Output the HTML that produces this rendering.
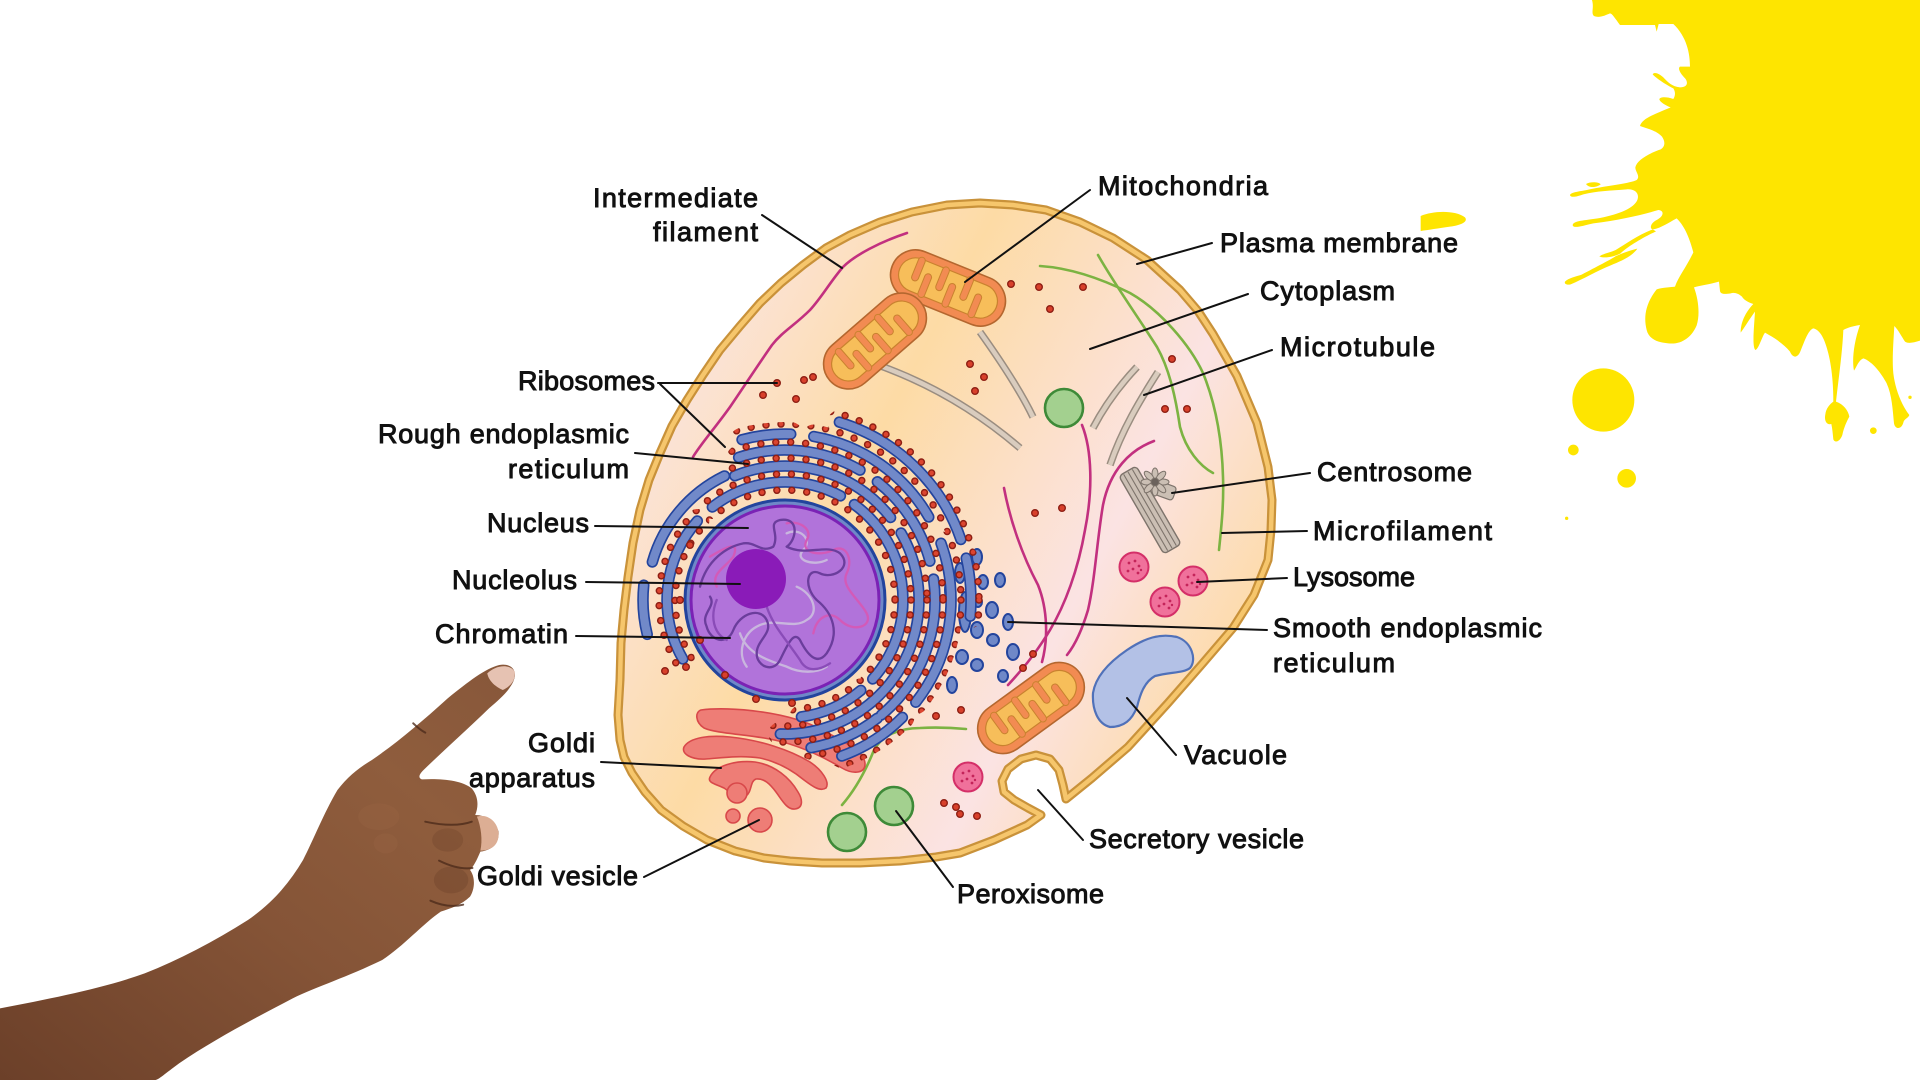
<!DOCTYPE html>
<html><head><meta charset="utf-8"><title>Animal cell</title>
<style>
html,body{margin:0;padding:0;background:#fff;}
svg{display:block;}
.lbl{font-family:"Liberation Sans",Arial,sans-serif;font-size:27px;fill:#111;stroke:#111;stroke-width:.95px;}
.ld{stroke:#111;stroke-width:2;fill:none;stroke-linecap:round;}
</style></head>
<body>
<svg width="1920" height="1080" viewBox="0 0 1920 1080" xmlns="http://www.w3.org/2000/svg">
<defs>
<linearGradient id="cyto" gradientUnits="userSpaceOnUse" x1="620" y1="325" x2="1239" y2="651">
<stop offset="0" stop-color="#fbe2dc"/>
<stop offset="0.12" stop-color="#fbe3d8"/>
<stop offset="0.40" stop-color="#fddba5"/>
<stop offset="0.76" stop-color="#fbe3e3"/>
<stop offset="0.97" stop-color="#fddcb0"/>
</linearGradient>
<linearGradient id="skin" x1="0" y1="1" x2="1" y2="0">
<stop offset="0" stop-color="#6c4029"/>
<stop offset="0.45" stop-color="#855437"/>
<stop offset="0.75" stop-color="#8f5d3d"/>
<stop offset="1" stop-color="#87573a"/>
</linearGradient>
<g id="mito">
<rect x="-60" y="-25" width="120" height="50" rx="25" fill="#f28b52" stroke="#b4672f" stroke-width="1.6"/>
<rect x="-52" y="-17" width="104" height="34" rx="17" fill="#f7be5a" stroke="#c9822f" stroke-width="1.2"/>
<g fill="#f28b52" stroke="#c9822f" stroke-width="1">
<rect x="-38" y="-19" width="7" height="25" rx="3.5"/>
<rect x="-12" y="-19" width="7" height="25" rx="3.5"/>
<rect x="14" y="-19" width="7" height="25" rx="3.5"/>
<rect x="-26" y="-6" width="7" height="25" rx="3.5"/>
<rect x="0" y="-6" width="7" height="25" rx="3.5"/>
<rect x="28" y="-6" width="7" height="25" rx="3.5"/>
</g>
</g>
<g id="lyso">
<circle r="14.5" fill="#f0719b" stroke="#d42f68" stroke-width="2"/>
<g fill="#c4245a"><circle cx="-5" cy="-4" r="1.4"/><circle cx="1" cy="-6" r="1.4"/><circle cx="5" cy="-1" r="1.4"/><circle cx="-1" cy="2" r="1.4"/><circle cx="-6" cy="4" r="1.4"/><circle cx="4" cy="6" r="1.4"/><circle cx="7" cy="3" r="1.2"/></g>
</g>
<g id="er" fill="none" stroke-linecap="round">
<circle cx="785" cy="600" r="118" pathLength="360" stroke-dasharray="72 400" transform="rotate(150 785 600)"/>
<circle cx="785" cy="600" r="118" pathLength="360" stroke-dasharray="66 400" transform="rotate(232 785 600)"/>
<circle cx="785" cy="600" r="118" pathLength="360" stroke-dasharray="96 400" transform="rotate(306 785 600)"/>
<circle cx="785" cy="600" r="118" pathLength="360" stroke-dasharray="32 400" transform="rotate(50 785 600)"/>
<circle cx="785" cy="600" r="134" pathLength="360" stroke-dasharray="74 400" transform="rotate(248 785 600)"/>
<circle cx="785" cy="600" r="134" pathLength="360" stroke-dasharray="80 400" transform="rotate(330 785 600)"/>
<circle cx="785" cy="600" r="134" pathLength="360" stroke-dasharray="44 400" transform="rotate(48 785 600)"/>
<circle cx="785" cy="600" r="150" pathLength="360" stroke-dasharray="48 400" transform="rotate(252 785 600)"/>
<circle cx="785" cy="600" r="150" pathLength="360" stroke-dasharray="37 400" transform="rotate(308 785 600)"/>
<circle cx="785" cy="600" r="150" pathLength="360" stroke-dasharray="58 400" transform="rotate(352 785 600)"/>
<circle cx="785" cy="600" r="150" pathLength="360" stroke-dasharray="28 400" transform="rotate(52 785 600)"/>
<circle cx="785" cy="600" r="166" pathLength="360" stroke-dasharray="17 400" transform="rotate(255 785 600)"/>
<circle cx="785" cy="600" r="166" pathLength="360" stroke-dasharray="50 400" transform="rotate(280 785 600)"/>
<circle cx="785" cy="600" r="166" pathLength="360" stroke-dasharray="58 400" transform="rotate(340 785 600)"/>
<circle cx="785" cy="600" r="166" pathLength="360" stroke-dasharray="25 400" transform="rotate(45 785 600)"/>
<circle cx="785" cy="600" r="186" pathLength="360" stroke-dasharray="54 400" transform="rotate(287 785 600)"/>
<circle cx="785" cy="600" r="186" pathLength="360" stroke-dasharray="18 400" transform="rotate(347 785 600)"/>
</g>
<g id="ers" fill="none" stroke-linecap="round">
<circle cx="785" cy="600" r="138" pathLength="360" stroke-dasharray="48 400" transform="rotate(196 785 600)"/>
<circle cx="785" cy="600" r="142" pathLength="360" stroke-dasharray="20 400" transform="rotate(166 785 600)"/>
</g>
<mask id="erm" maskUnits="userSpaceOnUse" x="0" y="0" width="1920" height="1080">
<use href="#er" stroke="#fff" stroke-width="24"/>
</mask>
</defs>

<rect width="1920" height="1080" fill="#fff"/>

<!-- yellow splash -->
<g fill="#fee500">
<g transform="translate(1500 0) scale(0.33333)">
<path d="M238,0 L1260,0 L1260,1022 C1240,1028 1225,1032 1215,1025 C1205,1010 1195,990 1183,978 C1180,1030 1176,1080 1180,1120 C1186,1170 1205,1215 1228,1245 C1224,1256 1212,1256 1210,1268 C1205,1288 1186,1290 1182,1270 C1178,1230 1176,1185 1160,1150 C1140,1112 1112,1082 1090,1075 C1076,1080 1070,1100 1062,1112 C1056,1085 1060,1030 1080,975 C1060,978 1045,982 1030,990 C1027,1060 1015,1140 1008,1205 C1030,1212 1045,1232 1048,1250 C1040,1265 1032,1282 1027,1305 C1020,1325 1005,1330 1000,1318 C998,1300 997,1285 994,1272 C980,1276 972,1262 976,1243 C978,1225 990,1212 1000,1205 C1000,1150 995,1100 985,1060 C975,1020 962,990 940,985 C925,990 915,1020 902,1052 C895,1072 880,1078 870,1055 C850,1030 820,1012 795,998 C785,1012 776,1048 766,1050 C756,1040 762,985 765,935 C750,955 732,985 722,998 C722,960 743,930 760,912 C742,906 732,900 726,890 C716,880 702,876 692,880 C676,882 662,884 660,873 L657,845 C630,853 602,856 582,862 C596,900 600,945 590,976 C576,1010 545,1035 505,1030 C470,1028 446,1015 440,990 C430,950 437,910 470,868 C490,862 513,862 525,860 C535,830 560,800 580,757 C570,720 556,680 530,655 C505,668 485,683 460,688 C448,688 450,670 470,660 C490,650 495,632 475,630 C425,645 360,660 280,670 C245,678 222,686 218,676 C219,662 250,662 300,654 C360,642 402,624 412,600 C420,578 402,566 380,568 C330,572 290,573 250,583 C230,590 214,594 210,586 C211,576 240,575 280,566 C330,556 390,550 410,540 C422,528 406,516 406,502 C410,482 442,462 482,448 C496,440 496,425 486,410 C470,392 442,386 420,378 C426,356 460,344 512,322 C496,316 480,306 478,298 C480,290 500,290 520,297 C528,285 525,272 520,265 C500,255 470,236 458,223 C462,215 476,220 490,232 C502,245 516,260 540,262 C560,262 566,250 556,236 C542,222 532,206 540,200 L570,200 C570,160 560,110 520,72 L476,72 L470,95 L465,75 L360,75 C346,56 336,40 330,40 C315,46 298,55 282,48 C272,40 283,24 276,0 Z"/>
<path d="M195,845 C205,834 228,830 245,824 C290,800 330,780 348,768 C372,758 395,750 412,746 C398,768 362,784 332,796 C292,812 248,838 212,853 C201,856 192,852 195,845 Z"/>
<path d="M298,769 C312,760 332,757 347,750 C375,733 412,706 458,688 L468,694 C430,712 382,740 362,760 C342,771 312,776 298,769 Z"/>
<path d="M258,552 C270,545 295,545 302,553 C290,562 268,566 258,552 Z"/>
<ellipse cx="310" cy="1200" rx="93" ry="95"/>
<circle cx="220" cy="1350" r="16"/>
<circle cx="380" cy="1435" r="28"/>
<circle cx="1120" cy="1292" r="10"/>
<circle cx="1230" cy="1192" r="5"/>
<circle cx="200" cy="1555" r="5"/>
</g>
<g transform="translate(1080 160) scale(0.33333)">
<path d="M1022,168 C1060,152 1125,150 1155,172 C1165,185 1145,195 1110,200 C1075,205 1045,210 1022,213 Z"/>
</g>
</g>

<!-- hand -->
<g transform="translate(0 640) scale(0.34435 0.33333)">
<path fill="url(#skin)" d="M0,1105 C150,1075 300,1045 420,1000 C520,960 620,905 720,840 C790,790 840,730 880,660 C910,600 940,520 980,450 C1010,410 1040,385 1080,360 C1150,310 1220,250 1300,175 C1360,125 1410,85 1450,75 C1480,70 1498,85 1495,110 C1490,140 1460,170 1420,205 C1360,265 1290,330 1230,390 C1215,405 1215,415 1225,418 C1280,415 1340,420 1370,445 C1390,470 1390,500 1380,525 C1410,525 1440,545 1448,575 C1450,610 1430,630 1395,635 C1385,660 1375,680 1365,690 C1380,710 1380,745 1365,770 C1340,795 1310,805 1280,815 C1230,850 1170,920 1110,960 C1010,1010 920,1040 850,1075 C730,1140 620,1200 520,1270 C480,1300 460,1320 450,1320 L0,1320 Z"/>
<ellipse cx="1100" cy="530" rx="60" ry="40" fill="#9a6646" opacity="0.3"/>
<ellipse cx="1120" cy="610" rx="35" ry="30" fill="#9a6646" opacity="0.3"/>
<ellipse cx="1310" cy="720" rx="50" ry="40" fill="#5a321f" opacity="0.25"/>
<ellipse cx="1300" cy="600" rx="45" ry="35" fill="#5a321f" opacity="0.2"/>
<path d="M1415,100 C1440,75 1480,70 1495,95 C1497,125 1480,140 1460,150 C1440,140 1420,125 1415,100 Z" fill="#e6c2b2"/>
<path d="M1385,530 C1410,520 1445,540 1448,580 C1448,615 1430,630 1395,632 C1402,600 1397,560 1385,530 Z" fill="#dcae94"/>
<g fill="none" stroke="#4e2c1b" stroke-width="6" stroke-linecap="round" opacity="0.8">
<path d="M1235,545 C1280,555 1330,560 1370,545"/>
<path d="M1275,662 C1310,680 1345,688 1372,684"/>
<path d="M1250,782 C1285,798 1315,802 1345,794"/>
<path d="M1200,250 C1210,260 1220,270 1235,278"/>
</g>
</g>

<!-- cell body -->
<path d="M620,680 L621,643 L624,610 L628,577 L633,543 L640,510 L649,480 L660,453 L672,426 L687,400 L703,375 L720,350 L740,326 L760,303 L781,283 L803,265 L826,248 L850,235 L880,222 L912,212 L947,205 L980,203 L1013,205 L1046,210 L1080,222 L1113,238 L1147,260 L1180,290 L1198,311 L1213,334 L1237,376 L1257,423 L1268,467 L1272,500 L1271,530 L1268,560 L1254,595 L1233,628 L1203,663 L1168,703 L1128,747 L1092,778 L1066,799 L1063,785 L1059,770 L1050,759 L1036,755 L1021,759 L1008,769 L1002,781 L1004,792 L1014,800 L1028,808 L1041,815 L1027,825 L994,840 L960,853 L936,857 L900,861 L860,863 L822,863 L790,861 L764,858 L735,851 L707,840 L683,826 L661,810 L645,792 L632,773 L624,757 L620,740 L618,715 Z" fill="url(#cyto)" stroke="#c9923a" stroke-width="9" stroke-linejoin="round"/>
<path d="M620,680 L621,643 L624,610 L628,577 L633,543 L640,510 L649,480 L660,453 L672,426 L687,400 L703,375 L720,350 L740,326 L760,303 L781,283 L803,265 L826,248 L850,235 L880,222 L912,212 L947,205 L980,203 L1013,205 L1046,210 L1080,222 L1113,238 L1147,260 L1180,290 L1198,311 L1213,334 L1237,376 L1257,423 L1268,467 L1272,500 L1271,530 L1268,560 L1254,595 L1233,628 L1203,663 L1168,703 L1128,747 L1092,778 L1066,799 L1063,785 L1059,770 L1050,759 L1036,755 L1021,759 L1008,769 L1002,781 L1004,792 L1014,800 L1028,808 L1041,815 L1027,825 L994,840 L960,853 L936,857 L900,861 L860,863 L822,863 L790,861 L764,858 L735,851 L707,840 L683,826 L661,810 L645,792 L632,773 L624,757 L620,740 L618,715 Z" fill="none" stroke="#f6c66c" stroke-width="4.5" stroke-linejoin="round"/>

<!-- intermediate filaments -->
<g fill="none" stroke="#c2307f" stroke-width="2.6" stroke-linecap="round">
<path d="M907,233 C880,242 855,255 843,267 C830,282 822,297 810,310 C795,325 782,332 772,345 C760,362 745,385 730,407 C715,428 700,445 693,457"/>
<path d="M1082,425 C1092,450 1093,490 1085,530 C1078,570 1065,605 1050,630 C1035,655 1020,672 1008,685"/>
<path d="M1004,488 C1010,520 1022,555 1038,585 C1048,610 1048,640 1042,662"/>
<path d="M1154,441 C1130,450 1110,470 1103,505 C1097,540 1095,580 1088,610 C1082,630 1075,645 1067,655"/>
</g>
<!-- microfilaments -->
<g fill="none" stroke="#7cb342" stroke-width="2.6" stroke-linecap="round">
<path d="M1098,255 C1115,285 1140,320 1157,347 C1170,370 1176,400 1180,427 C1186,450 1200,466 1213,473"/>
<path d="M1040,266 C1070,268 1100,278 1130,293 C1160,310 1190,345 1203,373 C1216,405 1222,440 1223,477 C1224,505 1221,530 1219,550"/>
<path d="M842,805 C855,790 866,770 874,750 C882,735 900,728 920,728 C940,727 955,728 966,729"/>
</g>
<!-- microtubules -->
<g fill="none">
<g stroke="#9a8d80" stroke-width="7.5">
<path d="M878,365 C920,380 970,405 1020,448"/><path d="M980,332 C1000,360 1020,390 1033,417"/>
<path d="M1137,367 C1120,385 1105,405 1093,428"/><path d="M1158,372 C1140,400 1122,430 1110,465"/>
</g>
<g stroke="#d9ccbe" stroke-width="4.5">
<path d="M878,365 C920,380 970,405 1020,448"/><path d="M980,332 C1000,360 1020,390 1033,417"/>
<path d="M1137,367 C1120,385 1105,405 1093,428"/><path d="M1158,372 C1140,400 1122,430 1110,465"/>
</g>
</g>

<!-- mitochondria -->
<use href="#mito" transform="translate(948 288) rotate(22)"/>
<use href="#mito" transform="translate(875 341) rotate(-41)"/>
<use href="#mito" transform="translate(1031 708) rotate(-36)"/>

<!-- golgi -->
<g fill="#ee7d76" stroke="#d8484a" stroke-width="1.6">
<path d="M701,710 C730,706 790,712 822,730 C845,742 866,752 865,765 C864,774 852,774 842,768 C815,752 790,742 764,738 C740,734 715,733 704,728 C695,722 695,712 701,710 Z"/>
<path d="M684,747 C690,737 710,735 730,737 C760,740 790,750 810,762 C822,770 830,782 826,788 C820,792 812,786 804,780 C792,770 778,762 760,758 C740,755 720,758 706,759 C692,760 681,754 684,747 Z"/>
<path d="M710,777 C715,766 735,760 755,762 C775,765 790,778 798,792 C803,800 803,808 795,809 C787,810 782,800 776,792 C770,784 764,778 756,779 C750,781 752,792 746,796 C738,800 730,792 724,788 C716,784 707,783 710,777 Z"/>
<circle cx="737" cy="793" r="10"/>
<circle cx="733" cy="816" r="7"/>
<circle cx="760" cy="820" r="12"/>
</g>

<!-- peroxisomes -->
<g fill="#a3d08f" stroke="#3e8a38" stroke-width="2.6">
<circle cx="1064" cy="408" r="19"/>
<circle cx="894" cy="806" r="19"/>
<circle cx="847" cy="832" r="19"/>
</g>
<!-- lysosomes -->
<use href="#lyso" transform="translate(1134 567)"/>
<use href="#lyso" transform="translate(1193 581)"/>
<use href="#lyso" transform="translate(1165 602)"/>
<use href="#lyso" transform="translate(968 777)"/>

<!-- vacuole -->
<path d="M1093,693 C1095,680 1105,665 1127,650 C1145,638 1160,633 1177,637 C1192,642 1197,660 1190,668 C1184,673 1170,672 1155,676 C1144,682 1140,695 1137,707 C1132,720 1124,727 1110,727 C1098,724 1092,710 1093,693 Z" fill="#b3c1e6" stroke="#5071b9" stroke-width="2.2"/>

<!-- centrosome -->
<g transform="translate(1150 510) rotate(60)">
<rect x="-45" y="-10" width="90" height="20" rx="4" fill="#cbbfb4" stroke="#7d736b" stroke-width="1.4"/>
<g stroke="#7d736b" stroke-width="1.1"><line x1="-44" y1="-5" x2="44" y2="-5"/><line x1="-44" y1="0" x2="44" y2="0"/><line x1="-44" y1="5" x2="44" y2="5"/></g>
</g>
<g transform="translate(1166 491) rotate(20)"><rect x="-9" y="-7" width="18" height="14" rx="3" fill="#cbbfb4" stroke="#7d736b" stroke-width="1.2"/></g>
<g transform="translate(1155 482)" fill="#cbbfb4" stroke="#7d736b" stroke-width="1">
<ellipse cx="0" cy="-8" rx="3" ry="6"/><ellipse cx="0" cy="8" rx="3" ry="6"/><ellipse cx="-8" cy="0" rx="6" ry="3"/><ellipse cx="8" cy="0" rx="6" ry="3"/>
<ellipse cx="6" cy="6" rx="3" ry="6" transform="rotate(-45 6 6)"/><ellipse cx="-6" cy="-6" rx="3" ry="6" transform="rotate(-45 -6 -6)"/>
<ellipse cx="6" cy="-6" rx="3" ry="6" transform="rotate(45 6 -6)"/><ellipse cx="-6" cy="6" rx="3" ry="6" transform="rotate(45 -6 6)"/>
<circle r="4" fill="#6b625c"/>
</g>

<!-- smooth ER -->
<g fill="#6f88c8" stroke="#23449d" stroke-width="2">
<ellipse cx="977" cy="557" rx="5" ry="8"/>
<ellipse cx="960" cy="573" rx="5" ry="10"/>
<ellipse cx="983" cy="582" rx="5" ry="7"/>
<ellipse cx="1000" cy="580" rx="5" ry="7"/>
<ellipse cx="950" cy="590" rx="5" ry="11"/>
<ellipse cx="978" cy="602" rx="4" ry="5"/>
<ellipse cx="992" cy="610" rx="6" ry="8"/>
<ellipse cx="965" cy="612" rx="6" ry="20"/>
<ellipse cx="1008" cy="622" rx="5" ry="8"/>
<ellipse cx="977" cy="630" rx="6" ry="8"/>
<ellipse cx="993" cy="640" rx="6" ry="6"/>
<ellipse cx="962" cy="657" rx="6" ry="7"/>
<ellipse cx="977" cy="665" rx="6" ry="6"/>
<ellipse cx="952" cy="685" rx="5" ry="8"/>
<ellipse cx="1013" cy="652" rx="6" ry="8"/>
<ellipse cx="1003" cy="676" rx="5" ry="6"/>
</g>

<!-- nuclear envelope + rough ER -->
<circle cx="785" cy="600" r="100" fill="#6f88c8" stroke="#23449d" stroke-width="3"/>
<use href="#er" stroke="#23449d" stroke-width="11.5"/>
<use href="#ers" stroke="#23449d" stroke-width="11.5"/>
<use href="#er" stroke="#7189c9" stroke-width="8.2"/>
<use href="#ers" stroke="#7189c9" stroke-width="8.2"/>
<g mask="url(#erm)" fill="none" stroke-linecap="round" stroke-dasharray="0 15">
<g stroke="#8e1f14" stroke-width="7.5">
<circle cx="785" cy="600" r="110"/><circle cx="785" cy="600" r="126"/><circle cx="785" cy="600" r="142"/><circle cx="785" cy="600" r="158"/><circle cx="785" cy="600" r="176"/><circle cx="785" cy="600" r="194"/>
</g>
<g stroke="#dc4530" stroke-width="4.6">
<circle cx="785" cy="600" r="110"/><circle cx="785" cy="600" r="126"/><circle cx="785" cy="600" r="142"/><circle cx="785" cy="600" r="158"/><circle cx="785" cy="600" r="176"/><circle cx="785" cy="600" r="194"/>
</g>
</g>

<!-- nucleus -->
<circle cx="785" cy="600" r="94" fill="#b173da" stroke="#7b22b5" stroke-width="3"/>
<g transform="translate(600 400) scale(0.33333)" fill="none" stroke-width="7" stroke-linecap="round" stroke-linejoin="round">
<path stroke="#c9b6de" d="M420,700 C440,760 500,780 560,800 C600,820 650,820 680,800 M590,560 C640,580 660,640 620,660 C580,690 520,650 470,680 C430,700 410,760 440,800 M560,400 C600,380 640,420 610,450 C580,480 640,500 680,480"/>
<path stroke="#d35ab8" d="M330,470 C380,440 420,420 400,470 C380,500 330,520 350,560 M560,370 C600,360 640,390 620,420 C600,460 660,470 700,450 C740,430 760,480 740,520 C720,560 780,600 800,640 C820,680 760,700 720,660 C690,630 650,650 640,700"/>
<path stroke="#6b3d9c" d="M300,560 C320,480 380,440 430,430 C470,425 480,460 520,440 C540,400 500,370 540,360 C600,350 590,420 560,440 C620,470 680,430 720,460 C760,500 700,540 660,520 C620,500 610,560 650,600 C700,640 720,700 680,760 C650,800 620,760 600,720 C580,690 560,740 540,780 C520,820 470,800 470,760 C470,720 520,700 500,660 C480,620 420,640 400,690 C380,740 330,720 320,680 C300,640 350,620 330,590"/>
<path stroke="#8a4cb8" d="M350,600 C330,650 340,700 380,720 M500,620 C520,680 560,720 600,780 C620,820 660,810 690,790 M430,520 C400,560 440,600 480,580"/>
</g>
<circle cx="756" cy="579" r="30" fill="#8a1bb8"/>

<!-- scattered ribosomes -->
<g fill="#d8402b" stroke="#8e1f14" stroke-width="1.4">
<circle cx="1011" cy="284" r="3.3"/><circle cx="1039" cy="287" r="3.3"/><circle cx="1083" cy="287" r="3.3"/><circle cx="1050" cy="309" r="3.3"/>
<circle cx="970" cy="364" r="3.3"/><circle cx="984" cy="377" r="3.3"/><circle cx="975" cy="391" r="3.3"/>
<circle cx="804" cy="380" r="3.3"/><circle cx="813" cy="377" r="3.3"/><circle cx="796" cy="399" r="3.3"/><circle cx="777" cy="383" r="3.3"/><circle cx="763" cy="395" r="3.3"/>
<circle cx="1172" cy="359" r="3.3"/><circle cx="1165" cy="409" r="3.3"/><circle cx="1187" cy="409" r="3.3"/>
<circle cx="1035" cy="513" r="3.3"/><circle cx="1062" cy="508" r="3.3"/><circle cx="1033" cy="654" r="3.3"/><circle cx="1023" cy="668" r="3.3"/>
<circle cx="944" cy="803" r="3.3"/><circle cx="956" cy="807" r="3.3"/><circle cx="960" cy="814" r="3.3"/><circle cx="977" cy="816" r="3.3"/>
<circle cx="665" cy="671" r="3.3"/><circle cx="686" cy="667" r="3.3"/><circle cx="725" cy="675" r="3.3"/><circle cx="756" cy="699" r="3.3"/><circle cx="792" cy="703" r="3.3"/>
<circle cx="936" cy="716" r="3.3"/><circle cx="961" cy="710" r="3.3"/>
<circle cx="690" cy="545" r="3.3"/><circle cx="680" cy="600" r="3.3"/><circle cx="700" cy="640" r="3.3"/>
</g>

<!-- leader lines -->
<g class="ld">
<line x1="762" y1="215" x2="842" y2="268"/>
<line x1="658" y1="383" x2="777" y2="383"/>
<line x1="660" y1="384" x2="725" y2="447"/>
<line x1="635" y1="453" x2="748" y2="464"/>
<line x1="595" y1="526" x2="748" y2="528"/>
<line x1="586" y1="582" x2="740" y2="584"/>
<line x1="576" y1="636" x2="730" y2="638"/>
<line x1="601" y1="762" x2="721" y2="768"/>
<line x1="644" y1="877" x2="759" y2="820"/>
<line x1="1090" y1="190" x2="965" y2="282"/>
<line x1="1212" y1="243" x2="1137" y2="264"/>
<line x1="1248" y1="294" x2="1090" y2="349"/>
<line x1="1272" y1="350" x2="1144" y2="395"/>
<line x1="1310" y1="473" x2="1172" y2="493"/>
<line x1="1307" y1="531" x2="1222" y2="533"/>
<line x1="1287" y1="578" x2="1197" y2="582"/>
<line x1="1267" y1="630" x2="1008" y2="622"/>
<line x1="1176" y1="755" x2="1127" y2="698"/>
<line x1="1083" y1="840" x2="1038" y2="790"/>
<line x1="953" y1="887" x2="896" y2="811"/>
</g>

<!-- labels -->
<g class="lbl">
<text x="593" y="207" textLength="165" lengthAdjust="spacing">Intermediate</text>
<text x="653" y="241" textLength="105" lengthAdjust="spacing">filament</text>
<text x="518" y="390" textLength="137" lengthAdjust="spacing">Ribosomes</text>
<text x="378" y="443" textLength="251" lengthAdjust="spacing">Rough endoplasmic</text>
<text x="508" y="478" textLength="121" lengthAdjust="spacing">reticulum</text>
<text x="487" y="532" textLength="102" lengthAdjust="spacing">Nucleus</text>
<text x="452" y="589" textLength="125" lengthAdjust="spacing">Nucleolus</text>
<text x="435" y="643" textLength="133" lengthAdjust="spacing">Chromatin</text>
<text x="528" y="752" textLength="67" lengthAdjust="spacing">Goldi</text>
<text x="469" y="787" textLength="126" lengthAdjust="spacing">apparatus</text>
<text x="477" y="885" textLength="161" lengthAdjust="spacing">Goldi vesicle</text>
<text x="1098" y="195" textLength="170" lengthAdjust="spacing">Mitochondria</text>
<text x="1220" y="252" textLength="238" lengthAdjust="spacing">Plasma membrane</text>
<text x="1260" y="300" textLength="135" lengthAdjust="spacing">Cytoplasm</text>
<text x="1280" y="356" textLength="155" lengthAdjust="spacing">Microtubule</text>
<text x="1317" y="481" textLength="155" lengthAdjust="spacing">Centrosome</text>
<text x="1313" y="540" textLength="179" lengthAdjust="spacing">Microfilament</text>
<text x="1293" y="586" textLength="122" lengthAdjust="spacing">Lysosome</text>
<text x="1273" y="637" textLength="269" lengthAdjust="spacing">Smooth endoplasmic</text>
<text x="1273" y="672" textLength="122" lengthAdjust="spacing">reticulum</text>
<text x="1184" y="764" textLength="103" lengthAdjust="spacing">Vacuole</text>
<text x="1089" y="848" textLength="215" lengthAdjust="spacing">Secretory vesicle</text>
<text x="957" y="903" textLength="147" lengthAdjust="spacing">Peroxisome</text>
</g>
</svg>
</body></html>
